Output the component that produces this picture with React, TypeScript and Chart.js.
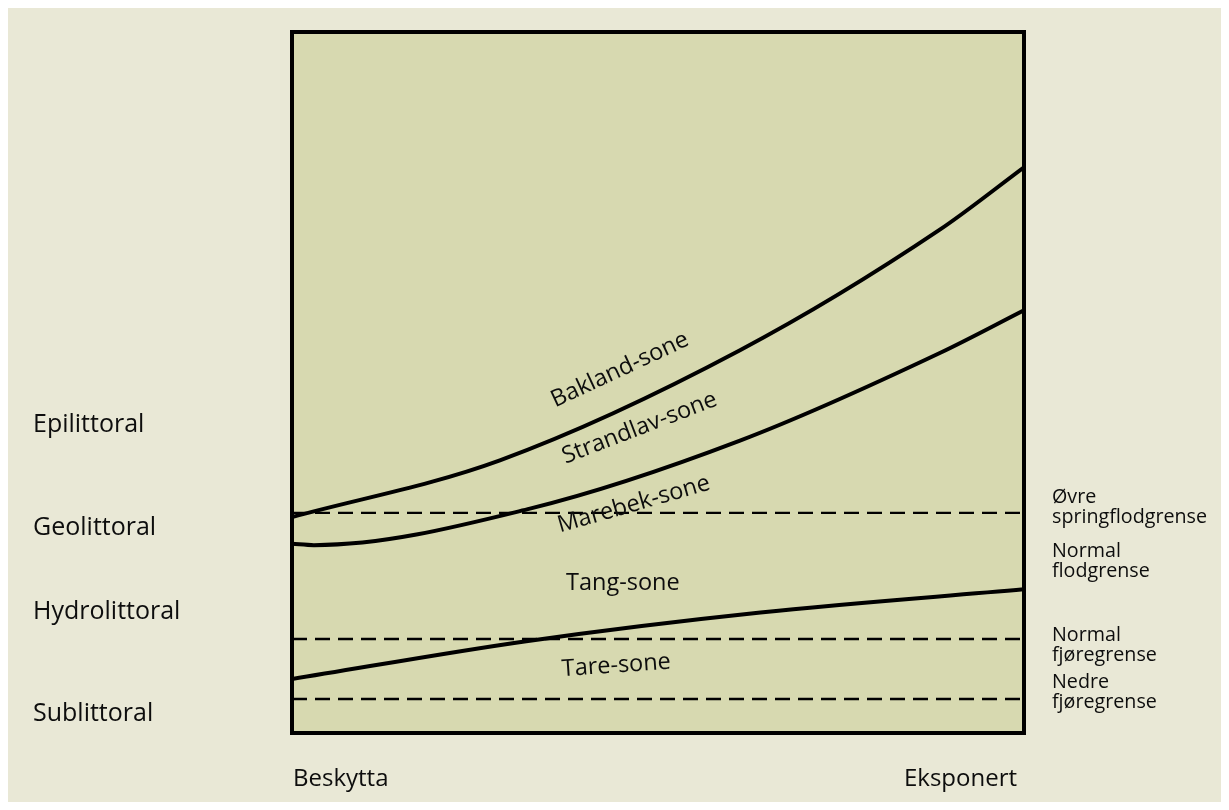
import { useEffect, useRef } from "react";
import { Chart, registerables } from "chart.js";

Chart.register(...registerables);

// Exposure axis (0 = Beskytta, 100 = Eksponert), height axis 0..100
const baklandX = [0, 28.4, 61.2, 88.5, 100];
const baklandY = [30.8, 38.9, 54.6, 71.8, 80.7];

const strandlavX = [0, 3, 32.5, 61.2, 88.5, 100];
const strandlavY = [27.0, 26.8, 32.0, 41.7, 54.2, 60.3];

const tangX = [0, 32.0, 64.0, 100];
const tangY = [7.7, 13.1, 17.2, 20.5];

const limitNames = ["Øvre springflodgrense", "Normal fjøregrense", "Nedre fjøregrense"];
const limitLevels = [31.4, 13.4, 4.85];

const zoneNames = ["Epilittoral", "Geolittoral", "Hydrolittoral", "Sublittoral"];
const zoneBaselines = [42.9, 28.2, 16.3, 1.7];

const rightLabels = [["Øvre", "springflodgrense"], ["Normal", "flodgrense"], ["Normal", "fjøregrense"], ["Nedre", "fjøregrense"]];
const rightBaselines = [32.8, 25.1, 13.1, 6.4];

const beltNames = ["Bakland-sone", "Strandlav-sone", "Marebek-sone", "Tang-sone", "Tare-sone"];
const beltX = [44.8, 47.5, 46.7, 45.2, 44.3];
const beltY = [51.8, 43.5, 32.6, 21.3, 9.6];
const beltAngle = [-25, -21, -16, 0, -4];

const xLabels = ["Beskytta", "Eksponert"];

const OUTER_BG = "#e9e8d6";
const PLOT_BG = "#d7d9b0";
const FONT = "'Open Sans', 'Noto Sans', sans-serif";

const toPoints = (xs: number[], ys: number[]) => xs.map((x, i) => ({ x, y: ys[i] }));

const decorPlugin = {
  id: "decor",
  beforeDraw(chart: any) {
    const { ctx, width, height, chartArea: a } = chart;
    ctx.save();
    ctx.fillStyle = OUTER_BG;
    ctx.fillRect(0, 0, width, height);
    ctx.fillStyle = PLOT_BG;
    ctx.fillRect(a.left, a.top, a.right - a.left, a.bottom - a.top);
    ctx.restore();
  },
  afterDraw(chart: any) {
    const { ctx, chartArea: a, scales } = chart;
    const xs = scales.x;
    const ys = scales.y;
    ctx.save();
    ctx.strokeStyle = "#000";
    ctx.lineWidth = 4;
    ctx.strokeRect(a.left, a.top, a.right - a.left, a.bottom - a.top);

    ctx.fillStyle = "#0d0d0d";
    ctx.textBaseline = "alphabetic";
    ctx.font = `25px ${FONT}`;
    ctx.textAlign = "left";
    zoneNames.forEach((t, i) => {
      ctx.fillText(t, 25, ys.getPixelForValue(zoneBaselines[i]));
    });
    const by = a.bottom + 53;
    ctx.font = `24px ${FONT}`;
    ctx.textAlign = "left";
    ctx.fillText(xLabels[0], a.left + 1, by);
    ctx.textAlign = "right";
    ctx.fillText(xLabels[1], a.right - 7, by);

    ctx.font = `19.7px ${FONT}`;
    ctx.textAlign = "left";
    rightLabels.forEach((lines, i) => {
      const y0 = ys.getPixelForValue(rightBaselines[i]);
      lines.forEach((ln, j) => ctx.fillText(ln, a.right + 28, y0 + j * 20));
    });

    ctx.font = `23.5px ${FONT}`;
    ctx.textAlign = "center";
    ctx.textBaseline = "middle";
    beltNames.forEach((t, i) => {
      ctx.save();
      ctx.translate(xs.getPixelForValue(beltX[i]), ys.getPixelForValue(beltY[i]));
      ctx.rotate((beltAngle[i] * Math.PI) / 180);
      ctx.fillText(t, 0, 0);
      ctx.restore();
    });
    ctx.restore();
  },
};

export default function App() {
  const ref = useRef<HTMLCanvasElement | null>(null);
  useEffect(() => {
    if (!ref.current) return;
    const curve = (label: string, xs: number[], ys: number[]) => ({
      label,
      data: toPoints(xs, ys),
      borderColor: "#000",
      borderWidth: 4,
      pointRadius: 0,
      cubicInterpolationMode: "monotone" as const,
      fill: false,
    });
    const limit = (label: string, v: number) => ({
      label,
      data: [{ x: 0, y: v }, { x: 100, y: v }],
      borderColor: "#000",
      borderWidth: 2.4,
      borderDash: [15, 8],
      pointRadius: 0,
      fill: false,
    });
    const chart = new Chart(ref.current, {
      type: "line",
      data: {
        datasets: [
          ...limitNames.map((n, i) => limit(n, limitLevels[i])),
          curve("Bakland/Strandlav", baklandX, baklandY),
          curve("Strandlav/Marebek", strandlavX, strandlavY),
          curve("Tang/Tare", tangX, tangY),
        ],
      },
      options: {
        responsive: false,
        animation: false,
        layout: { padding: { left: 284, top: 24, right: 197, bottom: 69 } },
        scales: {
          x: { type: "linear", min: 0, max: 100, display: false },
          y: { type: "linear", min: 0, max: 100, display: false },
        },
        plugins: { legend: { display: false }, tooltip: { enabled: false } },
      },
      plugins: [decorPlugin],
    });
    return () => chart.destroy();
  }, []);
  return <canvas ref={ref} width={1213} height={794} style={{ display: "block" }} />;
}
